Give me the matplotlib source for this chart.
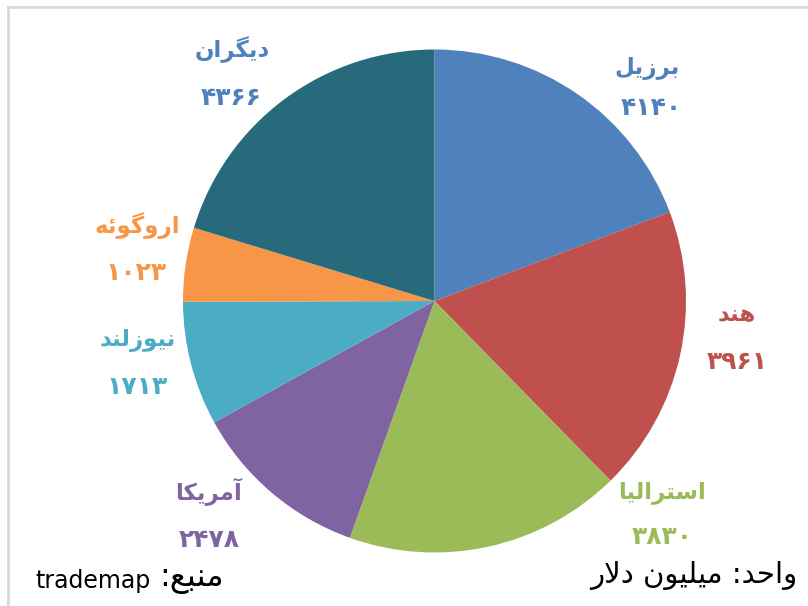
import matplotlib
matplotlib.use("Agg")
import matplotlib.pyplot as plt
from matplotlib.lines import Line2D

# ---------------- data ----------------
categories = ["برزیل", "هند", "استرالیا", "آمریکا", "نیوزلند", "اروگوئه", "دیگران"]
values = [4140, 3961, 3830, 2478, 1713, 1023, 4366]
colors = ["#4F81BD", "#C0504D", "#9BBB59", "#8064A2", "#4BACC6", "#F79646", "#276A7C"]
label_colors = ["#4F81BD", "#C0504D", "#9BBB59", "#8064A2", "#4BACC6", "#F79646", "#4F81BD"]
source_label = "منبع"
source_value = "trademap"
unit_label = "واحد: میلیون دلار"

# ---------------- Arabic shaping (no external libs) ----------------
FORMS = {  # iso, fin, init, med
    "\u0627": ("\uFE8D", "\uFE8E", None, None),
    "\u0622": ("\uFE81", "\uFE82", None, None),
    "\u0628": ("\uFE8F", "\uFE90", "\uFE91", "\uFE92"),
    "\u062A": ("\uFE95", "\uFE96", "\uFE97", "\uFE98"),
    "\u062C": ("\uFE9D", "\uFE9E", "\uFE9F", "\uFEA0"),
    "\u062D": ("\uFEA1", "\uFEA2", "\uFEA3", "\uFEA4"),
    "\u062F": ("\uFEA9", "\uFEAA", None, None),
    "\u0631": ("\uFEAD", "\uFEAE", None, None),
    "\u0632": ("\uFEAF", "\uFEB0", None, None),
    "\u0633": ("\uFEB1", "\uFEB2", "\uFEB3", "\uFEB4"),
    "\u0639": ("\uFEC9", "\uFECA", "\uFECB", "\uFECC"),
    "\u0644": ("\uFEDD", "\uFEDE", "\uFEDF", "\uFEE0"),
    "\u0645": ("\uFEE1", "\uFEE2", "\uFEE3", "\uFEE4"),
    "\u0646": ("\uFEE5", "\uFEE6", "\uFEE7", "\uFEE8"),
    "\u0647": ("\uFEE9", "\uFEEA", "\uFEEB", "\uFEEC"),
    "\u0648": ("\uFEED", "\uFEEE", None, None),
    "\u064A": ("\uFEF1", "\uFEF2", "\uFEF3", "\uFEF4"),
    "\u0626": ("\uFE89", "\uFE8A", "\uFE8B", "\uFE8C"),
    "\u06A9": ("\uFB8E", "\uFB8F", "\uFB90", "\uFB91"),
    "\u06AF": ("\uFB92", "\uFB93", "\uFB94", "\uFB95"),
    "\u06CC": ("\uFBFC", "\uFBFD", "\uFBFE", "\uFBFF"),
}


def dual(c):
    return c in FORMS and FORMS[c][2] is not None


def shape(text):
    chars = list(text)
    out = []
    i = 0
    n = len(chars)
    while i < n:
        c = chars[i]
        prev = chars[i - 1] if i > 0 else None
        join_prev = prev is not None and dual(prev)
        if c == "\u0644" and i + 1 < n and chars[i + 1] in ("\u0627", "\u0622"):
            out.append("\uFEFC" if join_prev else "\uFEFB")
            i += 2
            continue
        if c not in FORMS:
            out.append(c)
            i += 1
            continue
        nxt = chars[i + 1] if i + 1 < n else None
        join_next = dual(c) and nxt is not None and nxt in FORMS
        iso, fin, ini, med = FORMS[c]
        if join_prev and join_next:
            out.append(med)
        elif join_prev:
            out.append(fin)
        elif join_next:
            out.append(ini)
        else:
            out.append(iso)
        i += 1
    return "".join(out)


def rtl(text):
    return shape(text)[::-1]


def fa_digits(num):
    return "".join(chr(0x06F0 + int(d)) for d in str(num))


# ---------------- figure ----------------
W, H = 808, 606
fig = plt.figure(figsize=(W / 100, H / 100), dpi=100)
fig.patch.set_facecolor("white")

cx, cy, R = 434.5, 301, 251.5
ax = fig.add_axes([(cx - R) / W, (H - cy - R) / H, 2 * R / W, 2 * R / H])
ax.pie(values, colors=colors, startangle=90, counterclock=False,
       radius=1, wedgeprops=dict(linewidth=0))
ax.set_xlim(-1, 1)
ax.set_ylim(-1, 1)
ax.set_aspect("equal")
ax.axis("off")

# label positions (figure pixel coords from top-left): name, number
label_pos = [
    (647, 68, 651, 108),
    (737, 315, 737, 362),
    (662, 492, 662, 537),
    (209, 492, 209, 540),
    (138, 340, 137, 387),
    (137, 226, 136, 273),
    (232, 50, 231, 98),
]

for cat, val, col, (nx, ny, vx, vy) in zip(categories, values, label_colors, label_pos):
    fig.text(nx / W, 1 - ny / H, rtl(cat), color=col, fontsize=16.5,
             fontweight="bold", ha="center", va="center", family=["DejaVu Sans"])
    fig.text(vx / W, 1 - vy / H, fa_digits(val), color=col, fontsize=18,
             fontweight="bold", ha="center", va="center", family=["DejaVu Sans"])

# source and unit
fig.text(35 / W, 1 - 581 / H, source_value, color="black",
         fontsize=17, ha="left", va="center", family=["DejaVu Sans"])
fig.text(159 / W, 1 - 579 / H, ":" + rtl(source_label), color="black",
         fontsize=23, ha="left", va="center", family=["DejaVu Sans"])
fig.text(797 / W, 1 - 576 / H, rtl(unit_label), color="black",
         fontsize=21, ha="right", va="center", family=["DejaVu Sans"])

# frame lines (top and left)
fig.add_artist(Line2D([8 / W, 8 / W], [0, 1 - 7 / H], transform=fig.transFigure,
                      color="#D9D9D9", linewidth=2))
fig.add_artist(Line2D([8 / W, 1], [1 - 7 / H, 1 - 7 / H], transform=fig.transFigure,
                      color="#D9D9D9", linewidth=2))

fig.savefig("out.png", dpi=100)
